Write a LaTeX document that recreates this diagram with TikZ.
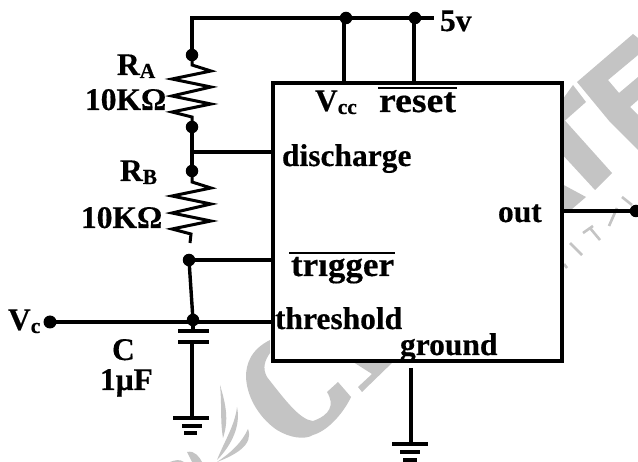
\documentclass[tikz,border=0pt]{standalone}
\usepackage{fontspec}
\usepackage{graphicx}
\setmainfont[BoldFeatures={FakeBold=0.4}]{Liberation Serif}
\definecolor{wm}{HTML}{C4C4C4}
\newcommand{\lbl}{\fontsize{31.5}{32}\selectfont\bfseries}
\newcommand{\lblm}{\fontsize{35}{36}\selectfont\bfseries}
\newcommand{\lblsub}[1]{\raisebox{-3pt}{\fontsize{21.5}{22}\selectfont\bfseries #1}}
\tikzset{
  wire/.style={line width=3.4pt,line cap=butt,line join=miter,black},
  zig/.style={line width=3pt,line join=miter,black},
  junction/.style={circle,fill=black,inner sep=0pt,minimum size=12.5pt},
  txt/.style={anchor=base west,inner sep=0pt,outer sep=0pt,text=black},
  plate/.style={line width=3.4pt,black},
  wmark/.style={fill=wm,draw=none},
  wtext/.style={draw=wm,line width=2.6pt},
  chip/.style={draw=black,line width=3.5pt,fill=white,minimum width=289pt,minimum height=278pt,inner sep=0pt,outer sep=0pt,rectangle}
}
\begin{document}
\begin{tikzpicture}[x=1pt,y=-1pt]
\clip (0,0) rectangle (638,462);
\fill[white] (0,0) rectangle (638,462);
% watermark
\fill[wmark] (577,82)--(633,34)--(638,38)--(638,55)--(608,80)--(619,93)--(638,77)--(638,100)--(630,107)--(638,115)--(638,150)--(610,122)--cycle;
\fill[wmark] (560,103)--(573,85)--(586,102)--(560,125)--cycle;
\fill[wmark] (560,115)--(612,173)--(595,190)--(560,152)--cycle;
\fill[wmark] (560,183)--(586,197)--(572,209)--(560,209)--cycle;
\draw[wtext] (570,243)--(582,255);
\draw[wtext] (583,233)--(593,226) (590,228)--(600,240);
\draw[wtext] (609,226)--(617,208);
\draw[wtext] (622,197)--(632,205);
\draw[wtext] (564,264)--(567,268);
\fill[wmark] (270,340) .. controls (250,350) and (246,365) .. (246,377)
  .. controls (247,400) and (262,420) .. (277,430)
  .. controls (290,438) and (305,440) .. (313,435)
  .. controls (330,430) and (345,410) .. (351,397)
  -- (338,382) -- (327,392)
  .. controls (335,405) and (330,415) .. (313,421)
  .. controls (300,420) and (285,400) .. (267,377)
  .. controls (262,368) and (265,360) .. (270,353) -- cycle;
\fill[wmark] (350,360)--(395,360)--(362,392)--(358,387)--(372,374)--cycle;
\fill[wmark] (220,385) .. controls (226,405) and (229,420) .. (223,438) .. controls (220,420) and (222,405) .. (220,385) -- cycle;
\fill[wmark] (237,407) .. controls (241,425) and (232,445) .. (217,460) .. controls (225,440) and (235,425) .. (237,407) -- cycle;
\fill[wmark] (248,429) .. controls (254,445) and (235,455) .. (217,462) .. controls (232,452) and (242,442) .. (248,429) -- cycle;
\fill[wmark] (187,452) .. controls (195,450) and (200,458) .. (202,462) -- (192,462) -- cycle;
\fill[wmark] (170,462) .. controls (175,460) and (180,459) .. (184,462) -- cycle;
% chip
\node[chip] (chip) at (417.5,222) {};
% junctions
\node[junction] (j1) at (346,18) {};
\node[junction] (j2) at (415,18) {};
\node[junction] (ra1) at (192,55) {};
\node[junction] (ra2) at (192,127) {};
\node[junction] (rb1) at (192,171) {};
\node[junction] (trig) at (189,260) {};
\node[junction] (cap) at (193,320) {};
\node[junction,minimum size=13pt] (vc) at (50,322) {};
\node[junction] (outd) at (636,211) {};
\coordinate (corner) at (192,18);
\coordinate (vend) at (434,18);
\coordinate (dis) at (192,152);
\coordinate (rbend) at (190,243);
\coordinate (p1) at (193,331);
\coordinate (p2) at (192,342);
\coordinate (g1) at (192,418);
\coordinate (g2) at (411,444);
\coordinate (g2top) at (411,368);
% wires
\draw[wire] (ra1.center) -- (corner) -- (vend);
\draw[wire] (344,18) -- (344,83);
\draw[wire] (414,18) -- (414,83);
\draw[wire] (ra2.center) -- (rb1.center);
\draw[wire] (dis) -- (dis -| chip.west);
\draw[wire] (trig.center) -- (trig.center -| chip.west);
\draw[wire] (trig.center) -- (cap.center);
\draw[wire] (vc.center) -- (vc.center -| chip.west);
\draw[wire] (chip.east |- outd) -- (outd.center);
\draw[wire] (cap.center) -- (p1);
\draw[wire] (p2) -- (g1);
\draw[wire] (g2top) -- (g2);
% resistors
\draw[zig] (ra1.center) -- ++(0,10) -- ++(19,6) -- ++(-39,8) -- ++(39,8) -- ++(-39,9) -- ++(39,8) -- ++(-39,8) -- ++(20,5) -- (ra2.center);
\draw[zig] (rb1.center) -- ++(0,11) -- ++(19,6) -- ++(-39,8) -- ++(39,8) -- ++(-39,9) -- ++(39,8) -- ++(-39,8) -- ++(19,5) -- (rbend);
% capacitor
\draw[plate] (178,331) -- (209,331);
\draw[plate] (178,342) -- (209,342);
% grounds
\draw[plate] (173,418) -- (209,418);
\draw[plate] (182,426) -- (202,426);
\draw[plate] (184,433) -- (197,433);
\draw[plate] (392,444) -- (428,444);
\draw[plate] (400,452) -- (420,452);
\draw[plate] (403,460) -- (417,460);
% overlines
\draw[line width=2pt] (378,88) -- (457,88);
\draw[line width=2pt] (289,253) -- (395,253);
% labels
\node[txt] (t5v) at (440,31) {\lbl 5v};
\node[txt] (tra) at (117,75) {\lbl R\lblsub{A}};
\node[txt] (tra2) at (85,110) {\lbl 10KΩ};
\node[txt] (trb) at (120,181) {\lbl R\lblsub{B}};
\node[txt] (trb2) at (81,228) {\lbl 10KΩ};
\node[txt] (tvcc) at (315,111) {\lbl V\lblsub{cc}};
\node[txt] (treset) at (379,112) {\scalebox{1.08}[1]{\lblm reset}};
\node[txt] (tdis) at (282,166) {\lbl discharge};
\node[txt] (tout) at (498,222) {\lbl out};
\node[txt] (ttrig) at (291,276) {\scalebox{1.03}[1]{\fontsize{34}{35}\selectfont\bfseries trıgger}};
\node[txt] (tth) at (275,329) {\lbl threshold};
\node[txt] (tgr) at (400,355) {\lbl ground};
\node[txt] (tvc) at (8,330) {\lbl V\lblsub{c}};
\node[txt] (tc) at (112,360) {\lbl C};
\node[txt] (tcv) at (100,390) {\lbl 1μF};
\end{tikzpicture}
\end{document}
